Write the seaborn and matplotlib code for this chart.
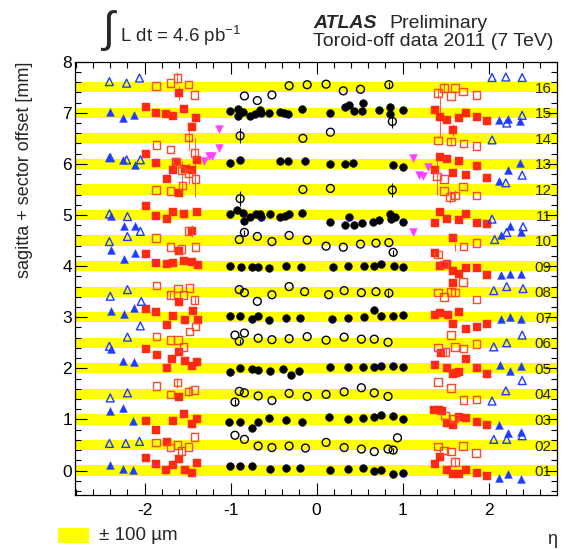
import matplotlib
matplotlib.use("Agg")
import matplotlib.pyplot as plt
from matplotlib.patches import Rectangle
import seaborn as sns
import pandas as pd
from matplotlib.ticker import MultipleLocator

# ---------------- data ----------------
sector_labels = ["01", "02", "03", "04", "05", "06", "07", "08",
                 "09", "10", "11", "12", "13", "14", "15", "16"]
sector_offsets = [0.0, 0.5, 1.0, 1.5, 2.0, 2.5, 3.0, 3.5,
                  4.0, 4.5, 5.0, 5.5, 6.0, 6.5, 7.0, 7.5]
band_halfwidth = 0.1  # +-100 um

# barrel, odd sectors (filled circles)
black_filled_eta = [-1.01, -0.92, -0.86, -0.92, -0.77, -0.72, -0.66, -0.65, -0.55, -0.43, -0.38, -0.33, -0.17, 0.16, 0.33, 0.38, 0.43, 0.54, 0.53, 0.72, 0.85, 0.85, 1.0,
                    -1.01, -0.89, -0.43, -0.33, -0.14, 0.16, 0.33, 0.42, 0.89, 1.0,
                    -1.01, -0.93, -0.86, -0.85, -0.77, -0.71, -0.66, -0.65, -0.54, -0.43, -0.37, -0.32, -0.17, 0.16, 0.33, 0.38, 0.43, 0.53, 0.65, 0.72, 0.85, 0.86, 0.91, 1.0,
                    -1.01, -0.88, -0.75, -0.68, -0.55, -0.36, -0.18, 0.19, 0.36, 0.55, 0.67, 0.75, 0.90, 1.01,
                    -1.01, -0.89, -0.75, -0.68, -0.55, -0.36, -0.19, 0.18, 0.36, 0.55, 0.67, 0.75, 0.89, 1.01,
                    -1.01, -0.89, -0.75, -0.68, -0.54, -0.39, -0.30, -0.21, 0.15, 0.36, 0.54, 0.67, 0.75, 0.89, 1.01,
                    -1.02, -0.89, -0.75, -0.68, -0.55, -0.36, -0.17, 0.14, 0.36, 0.54, 0.67, 0.75, 0.89, 1.01,
                    -1.01, -0.89, -0.75, -0.54, -0.36, -0.19, 0.15, 0.36, 0.54, 0.67, 0.75, 0.89, 1.01]
black_filled_y = [7.04, 7.07, 7.02, 6.93, 6.94, 6.98, 7.06, 6.99, 7.00, 7.02, 7.00, 6.97, 7.08, 6.99, 7.12, 7.15, 7.04, 7.20, 7.04, 7.06, 7.12, 6.97, 7.06,
                  6.02, 6.08, 6.05, 6.06, 6.06, 5.99, 5.99, 6.02, 5.97, 5.93,
                  5.01, 5.10, 5.04, 4.89, 4.96, 5.01, 5.02, 4.96, 5.02, 4.97, 4.99, 5.01, 5.04, 4.86, 4.81, 4.96, 4.81, 4.85, 4.87, 4.91, 5.02, 4.92, 4.97, 4.87,
                  4.01, 3.98, 3.98, 3.99, 3.96, 4.00, 3.99, 3.98, 4.01, 4.01, 4.01, 4.05, 4.01, 3.99,
                  3.02, 3.02, 2.97, 3.02, 2.94, 2.99, 2.99, 2.97, 2.98, 3.00, 3.15, 3.02, 3.02, 3.04,
                  1.92, 2.00, 1.99, 1.97, 1.94, 1.99, 1.86, 1.94, 2.02, 2.02, 2.02, 2.03, 2.05, 2.05, 2.02,
                  0.94, 0.95, 0.84, 0.94, 1.02, 0.99, 0.94, 1.04, 1.00, 1.02, 1.04, 1.08, 1.07, 1.00,
                  0.09, 0.08, 0.08, 0.02, 0.04, 0.05, 0.01, 0.02, 0.04, -0.01, 0.01, -0.06, -0.05]

# barrel, even sectors (open circles)
black_open_eta = [-0.32, -0.11, 0.11, 0.31, 0.51, 0.84, -0.84, -0.69, -0.52,
                  -0.89, -0.16, 0.16, 0.88,
                  -0.89, -0.16, 0.16, 0.88,
                  -0.84, -0.90, -0.69, -0.52, -0.32, -0.11, 0.11, 0.31, 0.51, 0.69, 0.84, 0.89,
                  -0.90, -0.84, -0.69, -0.52, -0.32, -0.14, 0.14, 0.32, 0.52, 0.69, 0.84,
                  -0.95, -0.84, -0.90, -0.68, -0.52, -0.32, -0.11, 0.11, 0.32, 0.52, 0.67, 0.83,
                  -0.95, -0.90, -0.84, -0.68, -0.52, -0.32, -0.11, 0.11, 0.32, 0.52, 0.67, 0.83,
                  -0.95, -0.84, -0.68, -0.52, -0.32, -0.13, 0.11, 0.32, 0.52, 0.67, 0.83, 0.89, 0.94]
black_open_y = [7.53, 7.55, 7.56, 7.43, 7.46, 7.55, 7.33, 7.24, 7.35,
                6.55, 6.50, 6.62, 6.83,
                5.32, 5.50, 5.52, 5.49,
                4.66, 4.52, 4.58, 4.48, 4.60, 4.51, 4.39, 4.37, 4.43, 4.45, 4.46, 4.27,
                3.54, 3.48, 3.31, 3.44, 3.60, 3.50, 3.44, 3.52, 3.48, 3.50, 3.47,
                2.65, 2.69, 2.53, 2.59, 2.56, 2.58, 2.62, 2.55, 2.61, 2.57, 2.57, 2.51,
                1.34, 1.55, 1.52, 1.46, 1.37, 1.51, 1.45, 1.49, 1.54, 1.62, 1.52, 1.45,
                0.69, 0.61, 0.48, 0.45, 0.48, 0.44, 0.55, 0.45, 0.42, 0.37, 0.42, 0.40, 0.64]

# endcap transition, odd sectors (filled squares)
red_filled_eta = [-1.60, -1.99, -1.87, -1.75, -1.67, -1.54, -1.40, -1.45,
                  -1.99, -1.87, -1.74, -1.67, -1.63, -1.53, -1.45, -1.39, -1.60,
                  -1.99, -1.87, -1.74, -1.67, -1.54, -1.39, -1.45,
                  -1.99, -1.60, -1.87, -1.74, -1.67, -1.54, -1.45, -1.38, -1.60,
                  -1.99, -1.87, -1.67, -1.53, -1.44, -1.38, -1.74,
                  -1.99, -1.86, -1.60, -1.68,
                  -1.74, -1.53, -1.45, -1.39, -1.60,
                  -1.99, -1.67, -1.54, -1.45, -1.39, -1.87,
                  -1.74, -1.99, -1.60,
                  -1.87, -1.75, -1.67, -1.53, -1.45, -1.39,
                  1.38, 1.44, 1.52, 1.66, 1.74, 1.86, 1.98, 1.59,
                  1.43, 1.52, 1.66, 1.86, 1.38, 1.59, 1.74, 1.98,
                  1.44, 1.38, 1.52, 1.66, 1.74, 1.86, 1.98, 1.59,
                  1.38, 1.44, 1.52, 1.58, 1.66, 1.74, 1.86, 1.98, 1.59,
                  1.38, 1.44, 1.53, 1.66, 1.59, 1.74, 1.86, 1.98,
                  1.45, 1.74,
                  1.38, 1.52, 1.59, 1.62, 1.66, 1.86, 1.98,
                  1.37, 1.42, 1.46, 1.52, 1.59, 1.65, 1.74, 1.86, 1.98,
                  1.38, 1.44,
                  1.52, 1.59, 1.65, 1.74, 1.86, 1.98]
red_filled_y = [7.39, 7.11, 7.00, 6.98, 6.94, 7.07, 6.90, 6.73,
                6.20, 6.01, 5.71, 5.88, 6.03, 5.91, 5.88, 6.08, 5.43,
                5.17, 4.98, 4.93, 5.05, 5.02, 5.05, 4.68,
                4.23, 4.29, 4.07, 4.05, 4.06, 4.10, 4.08, 4.03, 3.30,
                3.16, 3.10, 3.03, 2.95, 3.12, 2.95, 2.85,
                2.37, 2.26, 2.32, 2.19,
                2.01, 2.15, 2.04, 2.12, 1.44,
                0.97, 0.97, 1.10, 0.91, 1.01, 0.80,
                0.55, 0.24, 0.22,
                0.13, 0.01, 0.11, 0.01, -0.04, 0.14,
                7.05, 6.92, 6.85, 6.89, 6.99, 6.92, 6.83, 6.66,
                6.13, 6.10, 6.06, 5.95, 5.88, 5.83, 5.79, 5.73,
                5.06, 4.84, 4.93, 4.91, 5.01, 4.84, 4.83, 4.55,
                4.25, 4.01, 4.04, 3.91, 3.85, 3.97, 3.97, 3.83, 3.67,
                3.04, 3.09, 3.04, 3.11, 2.86, 2.76, 2.80, 2.87,
                2.29, 2.19,
                2.06, 2.00, 1.89, 1.90, 1.92, 2.00, 1.88,
                1.19, 1.18, 1.16, 0.93, 0.89, 1.04, 1.02, 0.95, 0.90,
                0.12, 0.26,
                0.01, -0.06, -0.07, 0.01, -0.04, -0.11]

# endcap transition, even sectors (open squares)
red_open_eta = [-1.87, -1.70, -1.62, -1.49, -1.42,
                -1.49, -1.86, -1.70, -1.42,
                -1.63, -1.57, -1.49, -1.41,
                -1.87, -1.70, -1.56,
                -1.87, -1.49, -1.70, -1.41, -1.57,
                -1.86, -1.70, -1.61, -1.55, -1.48, -1.42,
                -1.86, -1.70, -1.61, -1.55, -1.48, -1.41,
                -1.86, -1.70, -1.62, -1.49, -1.42,
                -1.87, -1.70, -1.62, -1.57, -1.49, -1.42,
                1.41, 1.48, 1.56, 1.61, 1.70, 1.86,
                1.41, 1.56, 1.71, 1.86,
                1.40, 1.48,
                1.48, 1.55, 1.61, 1.70, 1.86,
                1.71, 1.86,
                1.41, 1.48, 1.70,
                1.41, 1.48, 1.56, 1.61, 1.86,
                1.56, 1.41, 1.50, 1.61, 1.71, 1.86,
                1.41, 1.56,
                1.71, 1.86,
                1.49, 1.60,
                1.41, 1.48, 1.56, 1.61, 1.70, 1.85]
red_open_y = [7.53, 7.58, 7.68, 7.55, 7.35,
              6.52, 6.37, 6.28, 6.21,
              6.05, 5.87, 5.81, 5.71,
              5.49, 5.47, 5.58,
              4.55, 4.69, 4.37, 4.37, 4.34,
              3.62, 3.44, 3.56, 3.44, 3.57, 3.34,
              2.62, 2.56, 2.56, 2.42, 2.72, 2.82,
              1.65, 1.49, 1.72, 1.55, 1.58,
              0.55, 0.45, 0.50, 0.38, 0.46, 0.66,
              7.39, 7.48, 7.33, 7.48, 7.42, 7.35,
              6.46, 6.44, 6.40, 6.35,
              5.75, 5.71,
              5.47, 5.35, 5.38, 5.56, 5.38,
              4.38, 4.45,
              4.23, 4.03, 3.69,
              3.48, 3.40, 3.49, 3.48, 3.35,
              2.65, 2.41, 2.32, 2.42, 2.39, 2.47,
              1.73, 1.62,
              1.38, 1.39,
              1.08, 1.02,
              0.47, 0.39, 0.37, 0.17, 0.48, 0.34]

# forward, odd sectors (filled triangles)
blue_filled_eta = [-2.40, -2.25, -2.12, -2.41, -2.25, -2.11, -2.39, -2.24, -2.11, -2.39, -2.24, -2.11,
                   -2.39, -2.24, -2.12, -2.39, -2.25, -2.12, -2.40, -2.25, -2.13, -2.40, -2.25, -2.13,
                   2.12, 2.23, 2.37, 2.37, 2.23, 2.12, 2.14, 2.25, 2.38, 2.14, 2.25, 2.38,
                   2.14, 2.25, 2.38, 2.13, 2.25, 2.38, 2.12, 2.23, 2.38, 2.12, 2.23, 2.38]
blue_filled_y = [7.02, 6.90, 6.96, 6.13, 6.08, 5.97, 4.98, 4.78, 4.78, 4.32, 4.14, 4.25,
                 3.13, 3.06, 3.19, 2.37, 2.15, 2.12, 1.17, 1.23, 0.97, 0.11, 0.02, 0.01,
                 6.85, 6.87, 6.83, 6.02, 5.88, 5.66, 4.61, 4.78, 4.66, 3.83, 3.84, 3.85,
                 2.97, 3.00, 2.97, 2.06, 1.94, 2.04, 0.89, 0.74, 0.76, -0.14, -0.07, -0.17]

# forward, even sectors (open triangles)
blue_open_eta = [-2.41, -2.21, -2.06, -2.40, -2.21, -2.05, -2.41, -2.20, -2.41, -2.20, -2.05,
                 -2.40, -2.20, -2.04, -2.05, -2.20, -2.41, -2.40, -2.20, -2.41, -2.22, -2.06,
                 2.04, 2.20, 2.39, 2.21, 2.39, 2.04, 2.39, 2.20, 2.04, 2.07, 2.21, 2.40,
                 2.06, 2.21, 2.40, 2.06, 2.21, 2.39, 2.39, 2.20, 2.04, 2.06, 2.21, 2.39]
blue_open_y = [7.61, 7.58, 7.68, 6.12, 6.08, 6.08, 5.02, 4.97, 4.48, 4.58, 4.68,
               3.41, 3.54, 3.31, 2.83, 2.61, 2.43, 1.42, 1.52, 0.53, 0.53, 0.57,
               7.69, 7.70, 7.69, 6.80, 6.95, 6.47, 5.78, 5.63, 4.92, 4.52, 4.66, 4.77,
               3.52, 3.60, 3.56, 2.42, 2.50, 2.65, 1.76, 1.56, 1.36, 0.61, 0.61, 0.68]

# special chambers (magenta down triangles)
magenta_eta = [-1.13, -1.13, -1.22, -1.25, -1.31, 1.12, 1.30, 1.19, 1.24, 1.12]
magenta_y = [6.68, 6.31, 6.16, 6.15, 6.06, 6.11, 5.94, 5.79, 5.77, 4.66]

# selected error bars
black_err_eta = [-0.89, 0.88, -0.89, 0.88, 0.84, -0.84, 0.89, -0.95, -0.89, 0.83, 0.89, -0.86, 0.85]
black_err_y = [6.55, 6.83, 5.32, 5.49, 7.55, 4.66, 4.27, 1.34, 2.53, 3.47, 0.40, 7.02, 5.02]
black_err = [0.15, 0.12, 0.15, 0.13, 0.06, 0.05, 0.05, 0.06, 0.05, 0.06, 0.05, 0.05, 0.05]

red_err_eta = [-1.62, -1.60, -1.49, -1.42, -1.41, -1.49, -1.57, -1.56, -1.45, -1.70, -1.42, -1.62, -1.49, -1.57,
               1.44, 1.40, 1.55, 1.61, 1.59, 1.41, 1.48, 1.56, 1.61, 1.41, 1.50, 1.61, 1.44, 1.52]
red_err_y = [7.68, 7.39, 6.52, 6.21, 5.71, 5.81, 5.87, 5.58, 4.68, 3.44, 3.34, 1.72, 1.55, 0.38,
             6.92, 5.75, 5.35, 5.38, 6.66, 7.39, 7.48, 6.44, 4.38, 4.23, 2.32, 0.17, 3.09, 0.93]
red_err = [0.12, 0.14, 0.25, 0.30, 0.35, 0.20, 0.18, 0.10, 0.12, 0.08, 0.08, 0.10, 0.10, 0.08,
           0.40, 0.35, 0.12, 0.10, 0.12, 0.10, 0.10, 0.08, 0.08, 0.08, 0.08, 0.10, 0.08, 0.08]

# ---------------- style ----------------
sns.set_style("ticks")
plt.rcParams["font.family"] = ["Liberation Sans", "DejaVu Sans"]
plt.rcParams["mathtext.fontset"] = "custom"
plt.rcParams["mathtext.rm"] = "Liberation Sans"
plt.rcParams["mathtext.it"] = "Liberation Sans:italic"
plt.rcParams["axes.unicode_minus"] = False

W, H = 568, 549
fig = plt.figure(figsize=(W / 100, H / 100), dpi=100)
ax_l, ax_r, ax_t, ax_b = 75, 557, 61.7, 495
ax = fig.add_axes([ax_l / W, 1 - ax_b / H, (ax_r - ax_l) / W, (ax_b - ax_t) / H])

# yellow bands
for off in sector_offsets:
    ax.axhspan(off - band_halfwidth, off + band_halfwidth, color="#ffff00", lw=0, zorder=0)

RED = "#ff2a10"
RED_OPEN = "#ff4a2a"
BLUE = "#1f3dff"
MAG = "#ff40ff"

# error bars
ax.errorbar(black_err_eta, black_err_y, yerr=black_err, fmt="none", ecolor="black", elinewidth=0.8, zorder=2)
ax.errorbar(red_err_eta, red_err_y, yerr=red_err, fmt="none", ecolor="#ff5a4a", elinewidth=0.8, zorder=2)

def df(e, y):
    return pd.DataFrame({"eta": e, "y": y})

kw = dict(ax=ax, x="eta", y="y", legend=False, zorder=3)
sns.scatterplot(data=df(black_filled_eta, black_filled_y), marker="o", s=32, color="black", edgecolor="black", linewidth=0.3, **kw)
sns.scatterplot(data=df(black_open_eta, black_open_y), marker="o", s=32, facecolor="none", edgecolor="black", linewidth=1.0, **kw)
sns.scatterplot(data=df(red_filled_eta, red_filled_y), marker="s", s=30, color=RED, edgecolor=RED, linewidth=0.3, **kw)
sns.scatterplot(data=df(red_open_eta, red_open_y), marker="s", s=30, facecolor="none", edgecolor=RED_OPEN, linewidth=1.0, **kw)
sns.scatterplot(data=df(blue_filled_eta, blue_filled_y), marker="^", s=32, color=BLUE, edgecolor=BLUE, linewidth=0.3, **kw)
sns.scatterplot(data=df(blue_open_eta, blue_open_y), marker="^", s=32, facecolor="none", edgecolor=BLUE, linewidth=1.0, **kw)
sns.scatterplot(data=df(magenta_eta, magenta_y), marker="v", s=32, color=MAG, edgecolor=MAG, linewidth=0.3, **kw)

# sector labels
for lab, off in zip(sector_labels, sector_offsets):
    ax.text(2.735, off - 0.03, lab, ha="right", va="center", fontsize=11, zorder=4)

ax.set_xlim(-2.81, 2.795)
ax.set_ylim(-0.479, 8.0)
ax.xaxis.set_major_locator(MultipleLocator(1))
ax.xaxis.set_minor_locator(MultipleLocator(0.2))
ax.yaxis.set_major_locator(MultipleLocator(1))
ax.yaxis.set_minor_locator(MultipleLocator(0.2))
ax.tick_params(which="both", direction="in", top=True, right=True, width=0.8, colors="black")
ax.tick_params(which="major", length=8.5)
ax.tick_params(which="minor", length=4.2)
ax.tick_params(axis="x", labelsize=12.5, pad=6)
ax.tick_params(axis="y", labelsize=12.5, pad=2)
for sp in ax.spines.values():
    sp.set_linewidth(0.9)
    sp.set_color("black")
ax.set_xlabel("")
ax.set_ylabel("sagitta + sector offset [mm]", fontsize=13, loc="top", labelpad=21)

# header texts
def fx(px):
    return px / W
def fy(py):
    return 1 - py / H

fig.text(fx(108), fy(31), "\u222b", fontsize=31, ha="center", va="center")
fig.text(fx(119.5), fy(36), r"L dt = 4.6 pb$^{\mathregular{-1}}$", fontsize=13.5, ha="left", va="center")
fig.text(fx(313), fy(23.5), "ATLAS", fontsize=14, fontweight="bold", fontstyle="italic", ha="left", va="center")
fig.text(fx(389), fy(23.5), "Preliminary", fontsize=14, ha="left", va="center")
fig.text(fx(313), fy(41), "Toroid-off data 2011 (7 TeV)", fontsize=14, ha="left", va="center")

# legend box
fig.patches.append(Rectangle((fx(58.3), fy(543.3)), (89.3 - 58.3) / W, (543.3 - 528.3) / H,
                             transform=fig.transFigure, facecolor="#ffff00", edgecolor="none"))
fig.text(fx(99.3), fy(536), "\u00b1 100 \u00b5m", fontsize=13.5, ha="left", va="center")
fig.text(fx(552), fy(539), "\u03b7", fontsize=13, ha="center", va="center")

fig.savefig("out.png", dpi=100)
